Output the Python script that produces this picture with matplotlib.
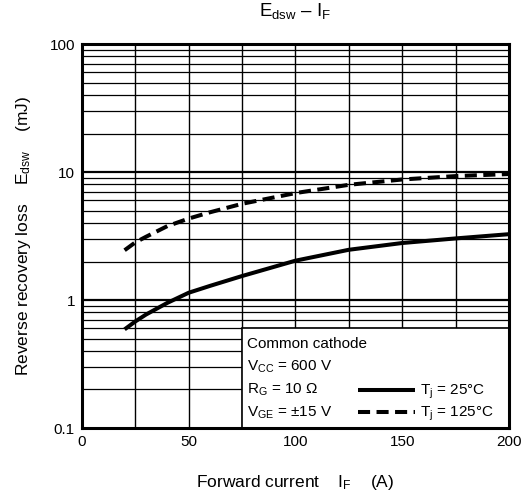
import numpy as np
import matplotlib
matplotlib.use("Agg")
from matplotlib import pyplot as plt
from matplotlib.patches import Rectangle

plt.rcParams['font.family'] = ['Liberation Sans', 'DejaVu Sans']
plt.rcParams['mathtext.fontset'] = 'custom'
plt.rcParams['mathtext.rm'] = 'Liberation Sans'
plt.rcParams['mathtext.it'] = 'Liberation Sans'

# Forward current (A)
current = [20, 25, 30, 40, 50, 60, 75, 100, 125, 150, 175, 200]
# Reverse recovery loss Edsw (mJ)
edsw_25 = [0.59, 0.68, 0.77, 0.95, 1.14, 1.29, 1.54, 2.03, 2.47, 2.79, 3.03, 3.27]
edsw_125 = [2.45, 2.82, 3.12, 3.78, 4.33, 4.85, 5.65, 6.85, 7.95, 8.75, 9.3, 9.65]

x_ticks = [0, 50, 100, 150, 200]
y_ticks = [0.1, 1, 10, 100]
y_ticklabels = ['0.1', '1', '10', '100']

conditions = ['Common cathode',
              r'V$_{\mathregular{CC}}$ = 600 V',
              r'R$_{\mathregular{G}}$ = 10 $\Omega$',
              r'V$_{\mathregular{GE}}$ = $\pm$15 V']

fig = plt.figure(figsize=(5.25, 5.01), dpi=100)
ax = fig.add_axes([0.156, 0.1457, 0.8135, 0.7663])
ax.set_xscale('linear')
ax.set_yscale('log')
ax.set_xlim(0, 200)
ax.set_ylim(0.1, 100)

# grid: every 25 A, every minor decade step
for xv in np.arange(25, 200, 25):
    ax.axvline(xv, color='black', lw=1.0, zorder=1)
for dec in [0.1, 1, 10]:
    for m in range(2, 10):
        ax.axhline(dec * m, color='black', lw=0.9, zorder=1)
for dec in [1, 10]:
    ax.axhline(dec, color='black', lw=1.6, zorder=1)

# condition box in the lower right
box = Rectangle((75, 0.1), 125, 0.5, facecolor='white', edgecolor='black',
                lw=1.2, zorder=4)
ax.add_patch(box)

l1, = ax.plot(current, edsw_25, color='black', lw=2.9, solid_capstyle='butt', zorder=5)
l2, = ax.plot(current, edsw_125, color='black', lw=2.9, ls=(0, (3, 1.6)),
              dash_capstyle='butt', zorder=5)

for i, t in enumerate(conditions):
    ax.text(0.387, 0.219 - i * 0.0602, t, transform=ax.transAxes, fontsize=11,
            va='center', ha='left', zorder=6)

leg = ax.legend([l1, l2], [r'T$_{\mathregular{j}}$ = 25°C', r'T$_{\mathregular{j}}$ = 125°C'],
                loc='lower left', bbox_to_anchor=(0.618, -0.02), frameon=False,
                fontsize=11, handlelength=3.7, handletextpad=0.35, labelspacing=0.25,
                borderpad=0.3)
leg.set_zorder(6)

ax.set_xticks(x_ticks)
ax.set_yticks(y_ticks)
ax.set_yticklabels(y_ticklabels)
ax.yaxis.set_minor_locator(matplotlib.ticker.NullLocator())
ax.tick_params(axis='both', length=0, labelsize=11, pad=5)
for s in ax.spines.values():
    s.set_linewidth(2.2)
    s.set_zorder(7)

ax.set_title(r'E$_{\mathregular{dsw}}$ – I$_{\mathregular{F}}$', fontsize=13.5, pad=20)
ax.set_xlabel(r'Forward current    I$_{\mathregular{F}}$    (A)', fontsize=12.5, labelpad=17)
ax.set_ylabel(r'Reverse recovery loss    E$_{\mathregular{dsw}}$    (mJ)', fontsize=12.5,
              labelpad=12)

fig.savefig('out.png', dpi=100)
